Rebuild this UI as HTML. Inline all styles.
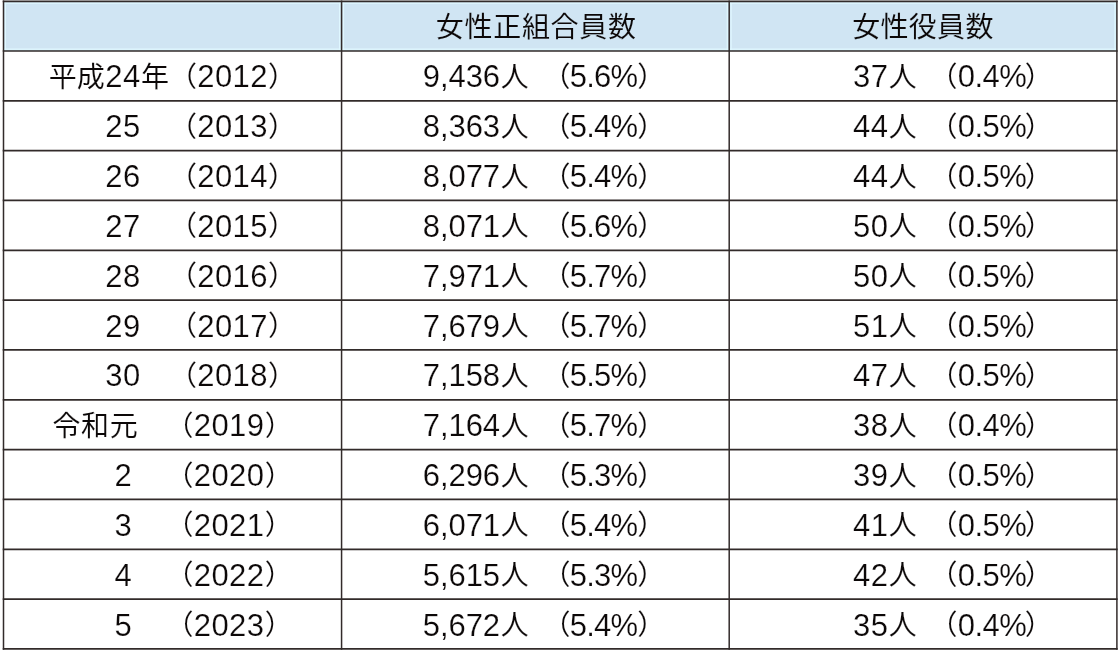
<!DOCTYPE html>
<html lang="ja"><head><meta charset="utf-8"><title>女性正組合員数・女性役員数の推移</title>
<style>
html,body{margin:0;padding:0;background:#fff;width:1119px;height:652px;overflow:hidden;}
body{position:relative;}
svg.g{position:absolute;left:0;top:0;}
.tx span.l{-webkit-text-stroke:0.2px #fff;}
.tx span.j{-webkit-text-stroke:0.12px #fff;}
.tx span.h{-webkit-text-stroke:0.12px #d0e5f3;}
.tx{position:absolute;left:0;top:0;width:1119px;height:652px;will-change:transform;}
span{position:absolute;white-space:pre;line-height:50px;color:#0c0808;}
.l{font-family:"Liberation Sans","Noto Sans CJK JP",sans-serif;font-size:31px;}
.j{font-family:"Liberation Sans","Noto Sans CJK JP",sans-serif;font-size:28px;}
</style></head><body>
<svg class="g" width="1119" height="652" viewBox="0 0 1119 652">
<rect x="3.5" y="1.15" width="1113.40" height="49.83" fill="#d0e5f3"/>
<line x1="339.67" x2="339.67" y1="1.30" y2="50.98" stroke="#e0f8ff" stroke-width="1.2"/>
<line x1="343.47" x2="343.47" y1="1.30" y2="50.98" stroke="#e0f8ff" stroke-width="1.2"/>
<line x1="727.30" x2="727.30" y1="1.30" y2="50.98" stroke="#e0f8ff" stroke-width="1.2"/>
<line x1="731.10" x2="731.10" y1="1.30" y2="50.98" stroke="#e0f8ff" stroke-width="1.2"/>
<line x1="5.40" x2="5.40" y1="1.30" y2="50.98" stroke="#e0f8ff" stroke-width="1.2"/>
<line x1="1115.00" x2="1115.00" y1="1.30" y2="50.98" stroke="#e0f8ff" stroke-width="1.2"/>
<line x1="3.50" x2="1116.90" y1="3.20" y2="3.20" stroke="#e0f8ff" stroke-width="1.2"/>
<line x1="3.50" x2="1116.90" y1="49.08" y2="49.08" stroke="#e0f8ff" stroke-width="1.2"/>
<line x1="2.75" x2="1117.65" y1="1.30" y2="1.30" stroke="#322b2a" stroke-width="1.7"/>
<line x1="2.75" x2="1117.65" y1="50.98" y2="50.98" stroke="#322b2a" stroke-width="1.7"/>
<line x1="2.75" x2="1117.65" y1="100.81" y2="100.81" stroke="#322b2a" stroke-width="1.7"/>
<line x1="2.75" x2="1117.65" y1="150.64" y2="150.64" stroke="#322b2a" stroke-width="1.7"/>
<line x1="2.75" x2="1117.65" y1="200.47" y2="200.47" stroke="#322b2a" stroke-width="1.7"/>
<line x1="2.75" x2="1117.65" y1="250.30" y2="250.30" stroke="#322b2a" stroke-width="1.7"/>
<line x1="2.75" x2="1117.65" y1="300.13" y2="300.13" stroke="#322b2a" stroke-width="1.7"/>
<line x1="2.75" x2="1117.65" y1="349.96" y2="349.96" stroke="#322b2a" stroke-width="1.7"/>
<line x1="2.75" x2="1117.65" y1="399.79" y2="399.79" stroke="#322b2a" stroke-width="1.7"/>
<line x1="2.75" x2="1117.65" y1="449.62" y2="449.62" stroke="#322b2a" stroke-width="1.7"/>
<line x1="2.75" x2="1117.65" y1="499.45" y2="499.45" stroke="#322b2a" stroke-width="1.7"/>
<line x1="2.75" x2="1117.65" y1="549.28" y2="549.28" stroke="#322b2a" stroke-width="1.7"/>
<line x1="2.75" x2="1117.65" y1="599.11" y2="599.11" stroke="#322b2a" stroke-width="1.7"/>
<line x1="2.75" x2="1117.65" y1="648.94" y2="648.94" stroke="#322b2a" stroke-width="1.7"/>
<line x1="3.5" x2="3.5" y1="0.45" y2="649.79" stroke="#322b2a" stroke-width="1.5"/>
<line x1="1116.9" x2="1116.9" y1="0.45" y2="649.79" stroke="#322b2a" stroke-width="1.5"/>
<line x1="341.57" x2="341.57" y1="0.45" y2="649.79" stroke="#322b2a" stroke-width="1.5"/>
<line x1="729.2" x2="729.2" y1="0.45" y2="649.79" stroke="#322b2a" stroke-width="1.5"/>
</svg>
<div class="tx">
<span class="j h" style="left:435.80px;top:3.00px;letter-spacing:0.7px">女性正組合員数</span>
<span class="j h" style="left:852.20px;top:3.00px;letter-spacing:0.3px">女性役員数</span>
<span class="j" style="left:48.65px;top:52.88px">平成</span><span class="l" style="left:105.30px;top:52.43px;letter-spacing:0.46px">24</span><span class="j" style="left:140.95px;top:52.88px">年</span><span class="j" style="left:169.10px;top:52.88px">（</span><span class="l" style="left:197.20px;top:52.43px;letter-spacing:0.46px">2012</span><span class="j" style="left:267.90px;top:52.88px">）</span>
<span class="l" style="left:422.75px;top:52.43px;letter-spacing:-0.07px">9,436</span><span class="j" style="left:500.80px;top:52.88px">人　</span><span class="j" style="left:542.50px;top:52.88px">（</span><span class="l" style="left:569.85px;top:52.43px;letter-spacing:-0.8px">5.6%</span><span class="j" style="left:637.30px;top:52.88px">）</span>
<span class="l" style="left:853.00px;top:52.43px;letter-spacing:0.46px">37</span><span class="j" style="left:888.80px;top:52.88px">人　</span><span class="j" style="left:929.50px;top:52.88px">（</span><span class="l" style="left:957.65px;top:52.43px;letter-spacing:-0.5px">0.4%</span><span class="j" style="left:1024.80px;top:52.88px">）</span>
<span class="l" style="left:105.30px;top:102.26px;letter-spacing:0.46px">25　</span><span class="j" style="left:169.10px;top:102.71px">（</span><span class="l" style="left:197.20px;top:102.26px;letter-spacing:0.46px">2013</span><span class="j" style="left:267.90px;top:102.71px">）</span>
<span class="l" style="left:422.75px;top:102.26px;letter-spacing:-0.07px">8,363</span><span class="j" style="left:500.80px;top:102.71px">人　</span><span class="j" style="left:542.50px;top:102.71px">（</span><span class="l" style="left:569.85px;top:102.26px;letter-spacing:-0.8px">5.4%</span><span class="j" style="left:637.30px;top:102.71px">）</span>
<span class="l" style="left:853.00px;top:102.26px;letter-spacing:0.46px">44</span><span class="j" style="left:888.80px;top:102.71px">人　</span><span class="j" style="left:929.50px;top:102.71px">（</span><span class="l" style="left:957.65px;top:102.26px;letter-spacing:-0.5px">0.5%</span><span class="j" style="left:1024.80px;top:102.71px">）</span>
<span class="l" style="left:105.30px;top:152.09px;letter-spacing:0.46px">26　</span><span class="j" style="left:169.10px;top:152.54px">（</span><span class="l" style="left:197.20px;top:152.09px;letter-spacing:0.46px">2014</span><span class="j" style="left:267.90px;top:152.54px">）</span>
<span class="l" style="left:422.75px;top:152.09px;letter-spacing:-0.07px">8,077</span><span class="j" style="left:500.80px;top:152.54px">人　</span><span class="j" style="left:542.50px;top:152.54px">（</span><span class="l" style="left:569.85px;top:152.09px;letter-spacing:-0.8px">5.4%</span><span class="j" style="left:637.30px;top:152.54px">）</span>
<span class="l" style="left:853.00px;top:152.09px;letter-spacing:0.46px">44</span><span class="j" style="left:888.80px;top:152.54px">人　</span><span class="j" style="left:929.50px;top:152.54px">（</span><span class="l" style="left:957.65px;top:152.09px;letter-spacing:-0.5px">0.5%</span><span class="j" style="left:1024.80px;top:152.54px">）</span>
<span class="l" style="left:105.30px;top:201.92px;letter-spacing:0.46px">27　</span><span class="j" style="left:169.10px;top:202.37px">（</span><span class="l" style="left:197.20px;top:201.92px;letter-spacing:0.46px">2015</span><span class="j" style="left:267.90px;top:202.37px">）</span>
<span class="l" style="left:422.75px;top:201.92px;letter-spacing:-0.07px">8,071</span><span class="j" style="left:500.80px;top:202.37px">人　</span><span class="j" style="left:542.50px;top:202.37px">（</span><span class="l" style="left:569.85px;top:201.92px;letter-spacing:-0.8px">5.6%</span><span class="j" style="left:637.30px;top:202.37px">）</span>
<span class="l" style="left:853.00px;top:201.92px;letter-spacing:0.46px">50</span><span class="j" style="left:888.80px;top:202.37px">人　</span><span class="j" style="left:929.50px;top:202.37px">（</span><span class="l" style="left:957.65px;top:201.92px;letter-spacing:-0.5px">0.5%</span><span class="j" style="left:1024.80px;top:202.37px">）</span>
<span class="l" style="left:105.30px;top:251.75px;letter-spacing:0.46px">28　</span><span class="j" style="left:169.10px;top:252.20px">（</span><span class="l" style="left:197.20px;top:251.75px;letter-spacing:0.46px">2016</span><span class="j" style="left:267.90px;top:252.20px">）</span>
<span class="l" style="left:422.75px;top:251.75px;letter-spacing:-0.07px">7,971</span><span class="j" style="left:500.80px;top:252.20px">人　</span><span class="j" style="left:542.50px;top:252.20px">（</span><span class="l" style="left:569.85px;top:251.75px;letter-spacing:-0.8px">5.7%</span><span class="j" style="left:637.30px;top:252.20px">）</span>
<span class="l" style="left:853.00px;top:251.75px;letter-spacing:0.46px">50</span><span class="j" style="left:888.80px;top:252.20px">人　</span><span class="j" style="left:929.50px;top:252.20px">（</span><span class="l" style="left:957.65px;top:251.75px;letter-spacing:-0.5px">0.5%</span><span class="j" style="left:1024.80px;top:252.20px">）</span>
<span class="l" style="left:105.30px;top:301.58px;letter-spacing:0.46px">29　</span><span class="j" style="left:169.10px;top:302.03px">（</span><span class="l" style="left:197.20px;top:301.58px;letter-spacing:0.46px">2017</span><span class="j" style="left:267.90px;top:302.03px">）</span>
<span class="l" style="left:422.75px;top:301.58px;letter-spacing:-0.07px">7,679</span><span class="j" style="left:500.80px;top:302.03px">人　</span><span class="j" style="left:542.50px;top:302.03px">（</span><span class="l" style="left:569.85px;top:301.58px;letter-spacing:-0.8px">5.7%</span><span class="j" style="left:637.30px;top:302.03px">）</span>
<span class="l" style="left:853.00px;top:301.58px;letter-spacing:0.46px">51</span><span class="j" style="left:888.80px;top:302.03px">人　</span><span class="j" style="left:929.50px;top:302.03px">（</span><span class="l" style="left:957.65px;top:301.58px;letter-spacing:-0.5px">0.5%</span><span class="j" style="left:1024.80px;top:302.03px">）</span>
<span class="l" style="left:105.30px;top:351.41px;letter-spacing:0.46px">30　</span><span class="j" style="left:169.10px;top:351.86px">（</span><span class="l" style="left:197.20px;top:351.41px;letter-spacing:0.46px">2018</span><span class="j" style="left:267.90px;top:351.86px">）</span>
<span class="l" style="left:422.75px;top:351.41px;letter-spacing:-0.07px">7,158</span><span class="j" style="left:500.80px;top:351.86px">人　</span><span class="j" style="left:542.50px;top:351.86px">（</span><span class="l" style="left:569.85px;top:351.41px;letter-spacing:-0.8px">5.5%</span><span class="j" style="left:637.30px;top:351.86px">）</span>
<span class="l" style="left:853.00px;top:351.41px;letter-spacing:0.46px">47</span><span class="j" style="left:888.80px;top:351.86px">人　</span><span class="j" style="left:929.50px;top:351.86px">（</span><span class="l" style="left:957.65px;top:351.41px;letter-spacing:-0.5px">0.5%</span><span class="j" style="left:1024.80px;top:351.86px">）</span>
<span class="j" style="left:52.50px;top:401.69px;letter-spacing:0.6px">令和元　</span><span class="j" style="left:165.50px;top:401.69px">（</span><span class="l" style="left:193.70px;top:401.24px;letter-spacing:0.46px">2019</span><span class="j" style="left:264.85px;top:401.69px">）</span>
<span class="l" style="left:422.75px;top:401.24px;letter-spacing:-0.07px">7,164</span><span class="j" style="left:500.80px;top:401.69px">人　</span><span class="j" style="left:542.50px;top:401.69px">（</span><span class="l" style="left:569.85px;top:401.24px;letter-spacing:-0.8px">5.7%</span><span class="j" style="left:637.30px;top:401.69px">）</span>
<span class="l" style="left:853.00px;top:401.24px;letter-spacing:0.46px">38</span><span class="j" style="left:888.80px;top:401.69px">人　</span><span class="j" style="left:929.50px;top:401.69px">（</span><span class="l" style="left:957.65px;top:401.24px;letter-spacing:-0.5px">0.4%</span><span class="j" style="left:1024.80px;top:401.69px">）</span>
<span class="l" style="left:114.50px;top:451.07px;letter-spacing:0.46px">2　</span><span class="j" style="left:165.50px;top:451.52px">（</span><span class="l" style="left:193.70px;top:451.07px;letter-spacing:0.46px">2020</span><span class="j" style="left:264.85px;top:451.52px">）</span>
<span class="l" style="left:422.75px;top:451.07px;letter-spacing:-0.07px">6,296</span><span class="j" style="left:500.80px;top:451.52px">人　</span><span class="j" style="left:542.50px;top:451.52px">（</span><span class="l" style="left:569.85px;top:451.07px;letter-spacing:-0.8px">5.3%</span><span class="j" style="left:637.30px;top:451.52px">）</span>
<span class="l" style="left:853.00px;top:451.07px;letter-spacing:0.46px">39</span><span class="j" style="left:888.80px;top:451.52px">人　</span><span class="j" style="left:929.50px;top:451.52px">（</span><span class="l" style="left:957.65px;top:451.07px;letter-spacing:-0.5px">0.5%</span><span class="j" style="left:1024.80px;top:451.52px">）</span>
<span class="l" style="left:114.50px;top:500.90px;letter-spacing:0.46px">3　</span><span class="j" style="left:165.50px;top:501.35px">（</span><span class="l" style="left:193.70px;top:500.90px;letter-spacing:0.46px">2021</span><span class="j" style="left:264.85px;top:501.35px">）</span>
<span class="l" style="left:422.75px;top:500.90px;letter-spacing:-0.07px">6,071</span><span class="j" style="left:500.80px;top:501.35px">人　</span><span class="j" style="left:542.50px;top:501.35px">（</span><span class="l" style="left:569.85px;top:500.90px;letter-spacing:-0.8px">5.4%</span><span class="j" style="left:637.30px;top:501.35px">）</span>
<span class="l" style="left:853.00px;top:500.90px;letter-spacing:0.46px">41</span><span class="j" style="left:888.80px;top:501.35px">人　</span><span class="j" style="left:929.50px;top:501.35px">（</span><span class="l" style="left:957.65px;top:500.90px;letter-spacing:-0.5px">0.5%</span><span class="j" style="left:1024.80px;top:501.35px">）</span>
<span class="l" style="left:114.50px;top:550.73px;letter-spacing:0.46px">4　</span><span class="j" style="left:165.50px;top:551.18px">（</span><span class="l" style="left:193.70px;top:550.73px;letter-spacing:0.46px">2022</span><span class="j" style="left:264.85px;top:551.18px">）</span>
<span class="l" style="left:422.75px;top:550.73px;letter-spacing:-0.07px">5,615</span><span class="j" style="left:500.80px;top:551.18px">人　</span><span class="j" style="left:542.50px;top:551.18px">（</span><span class="l" style="left:569.85px;top:550.73px;letter-spacing:-0.8px">5.3%</span><span class="j" style="left:637.30px;top:551.18px">）</span>
<span class="l" style="left:853.00px;top:550.73px;letter-spacing:0.46px">42</span><span class="j" style="left:888.80px;top:551.18px">人　</span><span class="j" style="left:929.50px;top:551.18px">（</span><span class="l" style="left:957.65px;top:550.73px;letter-spacing:-0.5px">0.5%</span><span class="j" style="left:1024.80px;top:551.18px">）</span>
<span class="l" style="left:114.50px;top:600.56px;letter-spacing:0.46px">5　</span><span class="j" style="left:165.50px;top:601.01px">（</span><span class="l" style="left:193.70px;top:600.56px;letter-spacing:0.46px">2023</span><span class="j" style="left:264.85px;top:601.01px">）</span>
<span class="l" style="left:422.75px;top:600.56px;letter-spacing:-0.07px">5,672</span><span class="j" style="left:500.80px;top:601.01px">人　</span><span class="j" style="left:542.50px;top:601.01px">（</span><span class="l" style="left:569.85px;top:600.56px;letter-spacing:-0.8px">5.4%</span><span class="j" style="left:637.30px;top:601.01px">）</span>
<span class="l" style="left:853.00px;top:600.56px;letter-spacing:0.46px">35</span><span class="j" style="left:888.80px;top:601.01px">人　</span><span class="j" style="left:929.50px;top:601.01px">（</span><span class="l" style="left:957.65px;top:600.56px;letter-spacing:-0.5px">0.4%</span><span class="j" style="left:1024.80px;top:601.01px">）</span>
</div>
</body></html>
